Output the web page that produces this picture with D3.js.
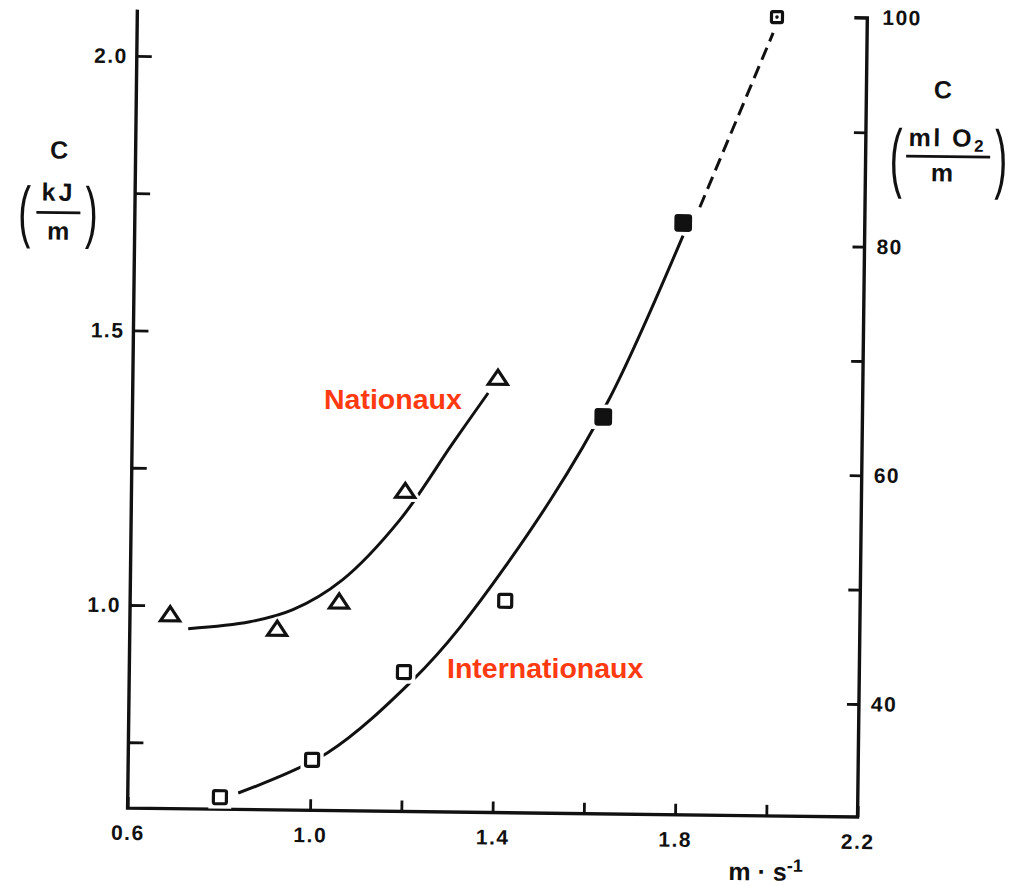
<!DOCTYPE html>
<html>
<head>
<meta charset="utf-8">
<script src="https://cdn.jsdelivr.net/npm/d3@7"></script>
<style>
  html, body { margin: 0; padding: 0; background: #fff; }
  svg { display: block; }
  .tick-label { font-family: "Liberation Sans", Arial, sans-serif; font-weight: bold; font-size: 21px; letter-spacing: 1.5px; fill: #111; }
  .axis-title { font-family: "Liberation Sans", Arial, sans-serif; font-weight: bold; font-size: 25px; fill: #111; }
  .paren { font-family: "Liberation Sans", Arial, sans-serif; font-size: 68px; fill: #111; }
  .series-label { font-family: "Liberation Sans", Arial, sans-serif; font-weight: bold; font-size: 28.5px; fill: #ff3a10; }
</style>
</head>
<body>
<svg id="chart" width="1010" height="886"></svg>
<script>
// speed (m·s-1) and energy cost C (kJ/m)
const nationauxSpeed = [0.688, 0.923, 1.058, 1.20, 1.40];
const nationauxCost = [0.985, 0.961, 1.012, 1.215, 1.423];

const internationauxSpeed = [0.802, 1.003, 1.202, 1.422];
const internationauxCost = [0.652, 0.722, 0.884, 1.016];
const internationauxFilledSpeed = [1.632, 1.802];
const internationauxFilledCost = [1.353, 1.708];
const internationauxTopSpeed = [2.002];
const internationauxTopCost = [2.085];

// fitted curves
const nationauxCurveSpeed = [0.728, 0.863, 0.957, 1.064, 1.189, 1.303, 1.379];
const nationauxCurveCost = [0.958, 0.972, 0.995, 1.050, 1.161, 1.302, 1.394];
const internationauxCurveSpeed = [0.842, 1.036, 1.222, 1.324, 1.518, 1.646, 1.802];
const internationauxCurveCost = [0.660, 0.735, 0.870, 0.967, 1.200, 1.388, 1.685];
const internationauxDashSpeed = [1.838, 1.994];
const internationauxDashCost = [1.737, 2.056];

const xTicks = [0.6, 0.8, 1.0, 1.2, 1.4, 1.6, 1.8, 2.0, 2.2];
const xTickLabels = ["0.6", "", "1.0", "", "1.4", "", "1.8", "", "2.2"];
const leftTicks = [0.75, 1.0, 1.25, 1.5, 1.75, 2.0];
const leftTickLabels = ["", "1.0", "", "1.5", "", "2.0"];
const rightTicks = [40, 50, 60, 70, 80, 90, 100];
const rightTickLabels = ["40", "", "60", "", "80", "", "100"];

const svg = d3.select("#chart");
const plotLeft = 132.5, plotRight = 862.5, plotTop = 14, plotBottom = 812.5;

const x = d3.scaleLinear().domain([0.6, 2.2]).range([plotLeft, plotRight]);
const y = d3.scaleLinear().domain([1.0, 2.0]).range([609.4, 60.3]);
const yRight = d3.scaleLinear().domain([40, 100]).range([699.5, 13.4]);

const zip = (xs, ys) => xs.map((v, i) => [v, ys[i]]);

// the scanned figure sits slightly skewed on the page
const page = svg.append("g").attr("transform", "rotate(0.7, 492, 410)");

// axes frame
page.append("path")
  .attr("d", `M${plotLeft},${plotTop} V${plotBottom} H${plotRight} V${yRight(100)} h-13`)
  .attr("fill", "none").attr("stroke", "#111").attr("stroke-width", 3.4);

function styleAxis(g) {
  g.select(".domain").remove();
  g.selectAll(".tick line").attr("stroke", "#111").attr("stroke-width", 2.8);
  g.selectAll(".tick text").attr("class", "tick-label").attr("fill", null)
    .attr("font-size", null).attr("font-family", null);
  g.attr("font-size", null).attr("font-family", null);
}

const xAxis = d3.axisBottom(x).tickValues(xTicks).tickSize(-11).tickPadding(17)
  .tickFormat((d, i) => xTickLabels[i]);
page.append("g").attr("transform", `translate(0,${plotBottom})`).call(xAxis).call(styleAxis);

const yAxis = d3.axisLeft(y).tickValues(leftTicks).tickSize(-15).tickPadding(9)
  .tickFormat((d, i) => leftTickLabels[i]);
page.append("g").attr("transform", `translate(${plotLeft},0)`).call(yAxis).call(styleAxis);

const yAxisR = d3.axisRight(yRight).tickValues(rightTicks.slice(0, -1)).tickSize(-12).tickPadding(12)
  .tickFormat((d, i) => rightTickLabels[i]);
page.append("g").attr("transform", `translate(${plotRight},0)`).call(yAxisR).call(styleAxis);
page.append("text").attr("class", "tick-label").attr("x", plotRight + 15).attr("y", yRight(100))
  .attr("dy", "0.32em").text(rightTickLabels[rightTickLabels.length - 1]);

// axis titles
const leftTitle = page.append("g");
leftTitle.append("text").attr("class", "axis-title").attr("x", 56).attr("y", 164).attr("text-anchor", "middle").text("C");
leftTitle.append("text").attr("class", "axis-title").attr("x", 56).attr("y", 206).attr("text-anchor", "middle")
  .attr("letter-spacing", 3).text("kJ");
leftTitle.append("line").attr("x1", 34).attr("x2", 78).attr("y1", 218).attr("y2", 218).attr("stroke", "#111").attr("stroke-width", 2.8);
leftTitle.append("text").attr("class", "axis-title").attr("x", 56).attr("y", 245).attr("text-anchor", "middle").text("m");
leftTitle.append("text").attr("class", "paren").attr("text-anchor", "middle")
  .attr("transform", "translate(22,240) scale(0.55,1)").text("(");
leftTitle.append("text").attr("class", "paren").attr("text-anchor", "middle")
  .attr("transform", "translate(89,240) scale(0.55,1)").text(")");

const rightTitle = page.append("g");
rightTitle.append("text").attr("class", "axis-title").attr("x", 939).attr("y", 93).attr("text-anchor", "middle").text("C");
const mlText = rightTitle.append("text").attr("class", "axis-title").attr("x", 944).attr("y", 141)
  .attr("text-anchor", "middle").attr("letter-spacing", 2.5);
mlText.append("tspan").text("ml O");
mlText.append("tspan").attr("font-size", 17).attr("dy", 5).text("2");
rightTitle.append("line").attr("x1", 903).attr("x2", 987).attr("y1", 151).attr("y2", 151).attr("stroke", "#111").attr("stroke-width", 2.8);
rightTitle.append("text").attr("class", "axis-title").attr("x", 939).attr("y", 176).attr("text-anchor", "middle").text("m");
rightTitle.append("text").attr("class", "paren").attr("text-anchor", "middle")
  .attr("transform", "translate(893,178) scale(0.55,1.12)").text("(");
rightTitle.append("text").attr("class", "paren").attr("text-anchor", "middle")
  .attr("transform", "translate(998,178) scale(0.55,1.12)").text(")");

const xTitle = page.append("text").attr("class", "axis-title").attr("x", 734).attr("y", 877);
xTitle.append("tspan").text("m · s");
xTitle.append("tspan").attr("font-size", 18).attr("dy", -9).text("-1");

// curves
const line = d3.line().x((d) => x(d[0])).y((d) => y(d[1])).curve(d3.curveCatmullRom.alpha(0.5));
page.append("path").datum(zip(nationauxCurveSpeed, nationauxCurveCost))
  .attr("d", line).attr("fill", "none").attr("stroke", "#111").attr("stroke-width", 3);
page.append("path").datum(zip(internationauxCurveSpeed, internationauxCurveCost))
  .attr("d", line).attr("fill", "none").attr("stroke", "#111").attr("stroke-width", 3);
page.append("path").datum(zip(internationauxDashSpeed, internationauxDashCost))
  .attr("d", line).attr("fill", "none").attr("stroke", "#111").attr("stroke-width", 3)
  .attr("stroke-dasharray", "13,7");

// open triangle, a little wider than tall as in the print
const wideTriangle = {
  draw(ctx) {
    ctx.moveTo(0, -7);
    ctx.lineTo(9.5, 7);
    ctx.lineTo(-9.5, 7);
    ctx.closePath();
  }
};
const tri = d3.symbol().type(wideTriangle);
const markG = page.append("g");
const triData = zip(nationauxSpeed, nationauxCost);
markG.append("g").selectAll("path").data(triData).join("path")
  .attr("d", tri).attr("transform", (d) => `translate(${x(d[0])},${y(d[1])})`)
  .attr("fill", "#fff").attr("stroke", "#fff").attr("stroke-width", 9).attr("stroke-linejoin", "round");
markG.append("g").selectAll("path").data(triData).join("path")
  .attr("d", tri).attr("transform", (d) => `translate(${x(d[0])},${y(d[1])})`)
  .attr("fill", "#fff").attr("stroke", "#111").attr("stroke-width", 3.2);

function squares(data, fill, size) {
  markG.append("g").selectAll("rect").data(data).join("rect")
    .attr("x", (d) => x(d[0]) - size / 2).attr("y", (d) => y(d[1]) - size / 2)
    .attr("width", size).attr("height", size)
    .attr("fill", "#fff").attr("stroke", "#fff").attr("stroke-width", 10);
  markG.append("g").selectAll("rect").data(data).join("rect")
    .attr("x", (d) => x(d[0]) - size / 2).attr("y", (d) => y(d[1]) - size / 2)
    .attr("width", size).attr("height", size).attr("rx", 1.5)
    .attr("fill", fill).attr("stroke", "#111").attr("stroke-width", 3.2);
}
squares(zip(internationauxSpeed, internationauxCost), "#fff", 13);
squares(zip(internationauxFilledSpeed, internationauxFilledCost), "#111", 14.5);
squares(zip(internationauxTopSpeed, internationauxTopCost), "#fff", 11);
markG.append("g").selectAll("circle").data(zip(internationauxTopSpeed, internationauxTopCost)).join("circle")
  .attr("cx", (d) => x(d[0])).attr("cy", (d) => y(d[1])).attr("r", 1.8).attr("fill", "#111");

// series labels (typed over the scan, not skewed)
svg.append("text").attr("class", "series-label").attr("x", 324).attr("y", 409).text("Nationaux");
svg.append("text").attr("class", "series-label").attr("x", 447).attr("y", 678).text("Internationaux");
</script>
</body>
</html>
